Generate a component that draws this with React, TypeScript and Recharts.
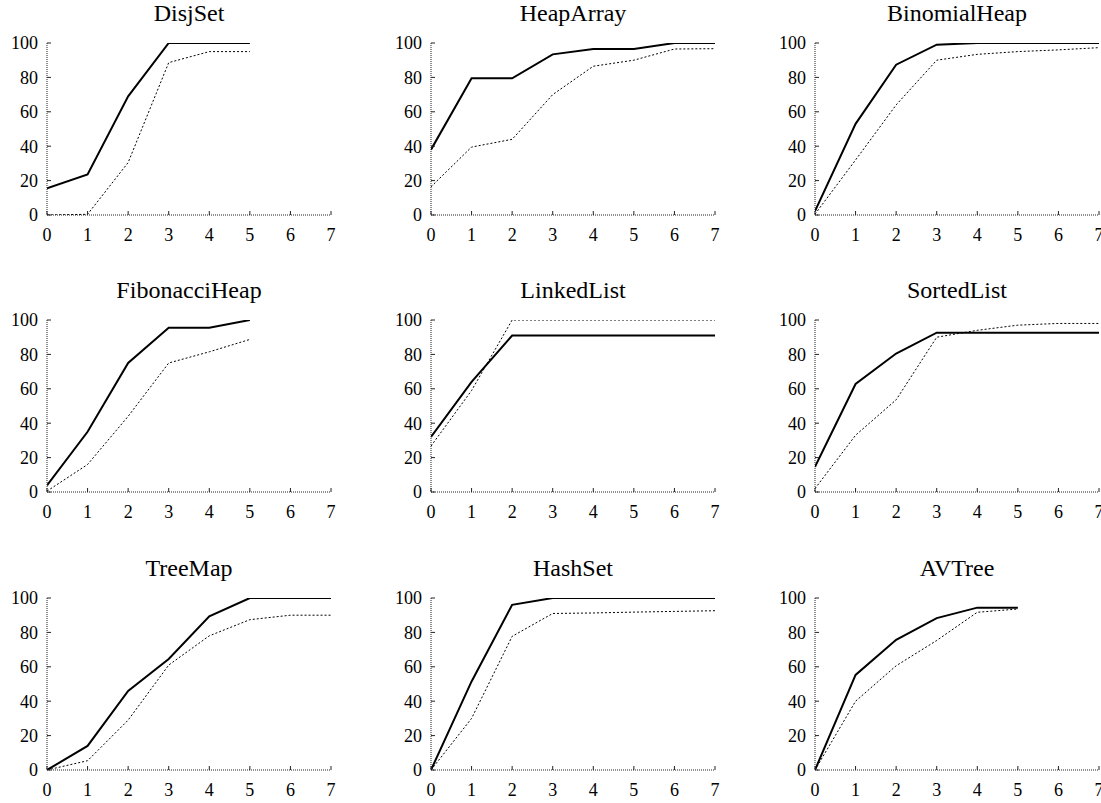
import React from 'react';
import { LineChart, Line, XAxis, YAxis } from 'recharts';

const xTicks = [0, 1, 2, 3, 4, 5, 6, 7];
const yTicks = [0, 20, 40, 60, 80, 100];

const titles = ['DisjSet', 'HeapArray', 'BinomialHeap', 'FibonacciHeap', 'LinkedList', 'SortedList', 'TreeMap', 'HashSet', 'AVTree'];

const disjSetSolid = [15.5, 23.6, 69, 100, 100, 100];
const disjSetDotted = [0, 0.4, 30.5, 88.6, 95, 95];

const heapArraySolid = [38, 79.5, 79.5, 93.4, 96.5, 96.5, 100, 100];
const heapArrayDotted = [16.4, 39.5, 44, 70, 86.5, 90, 96.5, 96.7];

const binomialHeapSolid = [2.3, 53, 87.4, 99, 100, 100, 100, 100];
const binomialHeapDotted = [0.5, 32, 64, 90, 93.4, 95, 96, 97.3];

const fibonacciHeapSolid = [3.9, 35, 75, 95.5, 95.5, 100];
const fibonacciHeapDotted = [0.5, 16, 44, 75, 81.5, 88.7];

const linkedListSolid = [32, 64, 91, 91, 91, 91, 91, 91];
const linkedListDotted = [26.7, 59, 100, 100, 100, 100, 100, 100];

const sortedListSolid = [14.6, 62.8, 80.5, 92.6, 92.6, 92.6, 92.6, 92.6];
const sortedListDotted = [2, 33, 53.6, 90, 94, 97, 98, 98];

const treeMapSolid = [0, 14, 46, 64.5, 89.3, 100, 100, 100];
const treeMapDotted = [0, 5.4, 29, 61, 78, 87.4, 90, 90];

const hashSetSolid = [0, 51.5, 96, 100, 100, 100, 100, 100];
const hashSetDotted = [0, 30, 77.7, 91, 91.3, 91.8, 92.2, 92.6];

const avTreeSolid = [0, 55.3, 75.7, 88.3, 94.4, 94.4];
const avTreeDotted = [0, 40, 60.6, 75.3, 91.7, 93.6];

const solidSeries = [disjSetSolid, heapArraySolid, binomialHeapSolid, fibonacciHeapSolid, linkedListSolid, sortedListSolid, treeMapSolid, hashSetSolid, avTreeSolid];
const dottedSeries = [disjSetDotted, heapArrayDotted, binomialHeapDotted, fibonacciHeapDotted, linkedListDotted, sortedListDotted, treeMapDotted, hashSetDotted, avTreeDotted];

const COL_LEFT = [47, 431, 815];
const ROW_TOP = [43, 320, 598];
const PW = 284;
const PH = 172;
const YW = 45;
const MT = 15;
const MR = 14;
const XH = 30;
const SERIF = '"Liberation Serif", "Times New Roman", serif';
const TICK_FS = 18;

const frameLine = { stroke: '#222', strokeWidth: 1, strokeDasharray: '1 1' };
const tickLine = { stroke: '#222', strokeWidth: 1 };

const tickProps = { fontFamily: SERIF, fontSize: TICK_FS, fill: '#000' };
const hiddenTickProps = { fontSize: 1, fill: 'none' };

function buildRows(solid: number[], dotted: number[]) {
  return xTicks.map((x, i) => ({
    x,
    a: i < solid.length ? solid[i] : undefined,
    b: i < dotted.length ? dotted[i] : undefined,
  }));
}

function Panel({ idx }: { idx: number }) {
  const col = idx % 3;
  const row = Math.floor(idx / 3);
  const left = COL_LEFT[col] - YW;
  const top = ROW_TOP[row] - MT;
  const data = buildRows(solidSeries[idx], dottedSeries[idx]);
  return (
    <div style={{ position: 'absolute', left, top, width: YW + PW + MR, height: MT + PH + XH, fontFamily: SERIF }}>
      <div
        style={{
          position: 'absolute',
          left: YW - 60,
          width: PW + 120,
          top: MT - 43,
          height: 27,
          lineHeight: '27px',
          textAlign: 'center',
          fontFamily: SERIF,
          fontSize: 24,
          color: '#000',
          whiteSpace: 'nowrap',
        }}
      >
        {titles[idx]}
      </div>
      <LineChart
        width={YW + PW + MR}
        height={MT + PH + XH}
        data={data}
        margin={{ top: MT, right: MR, bottom: 0, left: 0 }}
        style={{ fontFamily: SERIF }}
      >
        <XAxis
          xAxisId="b"
          dataKey="x"
          type="number"
          domain={[0, 7]}
          ticks={xTicks}
          orientation="bottom"
          height={XH}
          axisLine={frameLine}
          tickLine={tickLine}
          tickSize={-4}
          tickMargin={17}
          tick={tickProps}
          interval={0}
          allowDataOverflow
        />
        <XAxis
          xAxisId="t"
          dataKey="x"
          type="number"
          domain={[0, 7]}
          ticks={xTicks}
          orientation="top"
          height={0}
          axisLine={frameLine}
          tickLine={tickLine}
          tickSize={-4}
          tick={hiddenTickProps}
          interval={0}
          allowDataOverflow
        />
        <YAxis
          yAxisId="l"
          type="number"
          domain={[0, 100]}
          ticks={yTicks}
          orientation="left"
          width={YW}
          axisLine={frameLine}
          tickLine={tickLine}
          tickSize={-4}
          tickMargin={13}
          tick={tickProps}
          interval={0}
          allowDataOverflow
        />
        <YAxis
          yAxisId="r"
          type="number"
          domain={[0, 100]}
          ticks={yTicks}
          orientation="right"
          width={0}
          axisLine={frameLine}
          tickLine={tickLine}
          tickSize={-4}
          tick={hiddenTickProps}
          interval={0}
          allowDataOverflow
        />
        <Line
          xAxisId="b"
          yAxisId="l"
          dataKey="b"
          type="linear"
          stroke="#000"
          strokeWidth={1}
          strokeDasharray="2 2"
          dot={false}
          activeDot={false}
          isAnimationActive={false}
        />
        <Line
          xAxisId="b"
          yAxisId="l"
          dataKey="a"
          type="linear"
          stroke="#000"
          strokeWidth={2}
          dot={false}
          activeDot={false}
          isAnimationActive={false}
        />
      </LineChart>
    </div>
  );
}

export default function App() {
  return (
    <div style={{ position: 'absolute', left: 0, top: 0, width: 1101, height: 800, background: '#fff', overflow: 'hidden' }}>
      {titles.map((_, i) => (
        <Panel key={i} idx={i} />
      ))}
    </div>
  );
}
